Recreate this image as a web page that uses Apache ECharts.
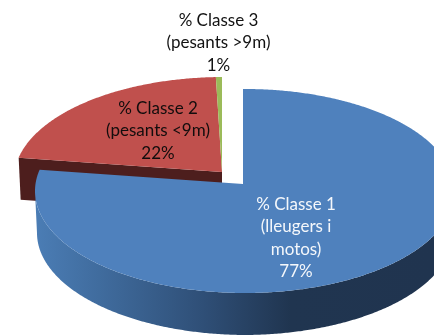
<!DOCTYPE html>
<html><head><meta charset="utf-8">
<style>html,body{margin:0;padding:0;background:#fff;overflow:hidden}#c{width:434px;height:335px}</style>
<script src="https://cdn.jsdelivr.net/npm/echarts@6/dist/echarts.min.js"></script>
</head><body><div id="c"></div>
<script>
const categories = ['% Classe 1\n(lleugers i\nmotos)', '% Classe 2\n(pesants <9m)', '% Classe 3\n(pesants >9m)'];
const values = [77.3, 22.2, 0.5];

const colors = ['#4f81bd', '#c0504d', '#9bbb59'];
const wallColors = ['#2a4566', '#4d1e1d', '#5c7035'];
const textColors = ['#f4f7fb', '#120d0d', '#121212'];
const labelCentres = [[296, 238], [158, 131], [218.5, 43]];
const offsets = [[0, 0], [-21, -12], [-21, -12]];
const geo = {cx: 245, cy: 191, rx: 210, ry: 102, apexDx: -2, apexDy: -7, depth: 42, narrow: 2};

const total = values.reduce((a, b) => a + b, 0);
const starts = [];
values.reduce((acc, v, i) => (starts[i] = acc, acc + v), 0);

function rim(theta, o) {
  const s = Math.sin(theta), c = -Math.cos(theta);
  const px = geo.apexDx / geo.rx, py = geo.apexDy / geo.ry;
  const pd = px * s + py * c;
  const t = -pd + Math.sqrt(pd * pd - (px * px + py * py - 1));
  return [geo.cx + geo.apexDx + o[0] + t * geo.rx * s, geo.cy + geo.apexDy + o[1] + t * geo.ry * c];
}

function renderItem(params, api) {
  const i = params.dataIndex;
  const o = offsets[i];
  const v = api.value(0);
  const a0 = starts[i] / total * 2 * Math.PI, a1 = (starts[i] + v) / total * 2 * Math.PI;
  const n = Math.max(2, Math.ceil((a1 - a0) * 120));
  const arc = [];
  for (let k = 0; k <= n; k++) arc.push(rim(a0 + (a1 - a0) * k / n, o));
  const apex = [geo.cx + geo.apexDx + o[0], geo.cy + geo.apexDy + o[1]];
  const children = [];
  // outer wall: the part of the rim on the near half of the ellipse
  const near = arc.filter(p => p[1] >= geo.cy + o[1]);
  if (near.length > 1) {
    const low = near.slice().reverse().map(p => [p[0] + (p[0] < geo.cx ? geo.narrow : -geo.narrow), p[1] + geo.depth]);
    children.push({type: 'polygon', z2: 20, shape: {points: near.concat(low)}, style: {fill: {
      type: 'linear', global: true, x: 35, y: 0, x2: 434, y2: 0,
      colorStops: [{offset: 0, color: '#4b7db5'}, {offset: 0.16, color: '#406c9e'}, {offset: 0.42, color: '#2f4f77'},
                   {offset: 0.64, color: '#203550'}, {offset: 1, color: '#20344f'}]
    }}});
  }
  // cut wall of an exploded slice
  if (o[0] !== 0 && i === 1) {
    const p = arc[0];
    children.push({type: 'polygon', z2: 10, shape: {points: [p, apex, [apex[0], apex[1] + geo.depth], [p[0] + geo.narrow, p[1] + geo.depth]]},
      style: {fill: wallColors[i]}});
  }
  children.push({type: 'polygon', z2: i === 0 ? 30 : 15, shape: {points: [apex].concat(arc)}, style: {fill: colors[i]}});
  children.push({type: 'text', z2: 40, style: {
    text: categories[i] + '\n' + Math.round(v) + '%',
    x: labelCentres[i][0], y: labelCentres[i][1], align: 'center', verticalAlign: 'middle',
    font: '17px Lato', lineHeight: 22.5, fill: textColors[i]
  }});
  return {type: 'group', children};
}

const chart = echarts.init(document.getElementById('c'), null, {renderer: 'canvas', width: 434, height: 335});
chart.setOption({
  animation: false,
  backgroundColor: '#fff',
  series: [{type: 'custom', coordinateSystem: 'none', renderItem, clip: false,
    data: values.map((v, i) => ({value: [v], name: categories[i]}))}]
});
</script></body></html>
